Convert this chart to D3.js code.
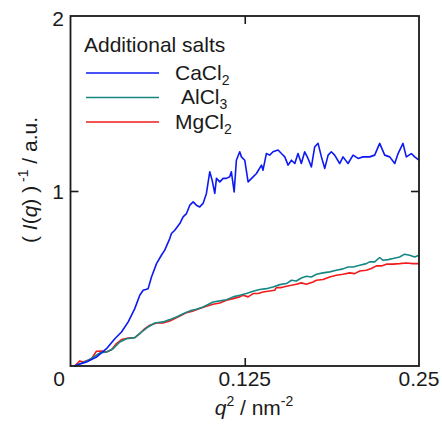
<!DOCTYPE html>
<html>
<head>
<meta charset="utf-8">
<script src="https://cdn.jsdelivr.net/npm/d3@7/dist/d3.min.js"></script>
<style>
  body { margin: 0; background: #fff; }
  svg text { font-family: "Liberation Sans", Arial, sans-serif; fill: #1a1a1a; }
</style>
</head>
<body>
<svg id="chart" width="442" height="425"></svg>
<script>
// q^2 (nm^-2) and (I(q))^-1
const caQ = [0.0024,0.0115,0.0186,0.0258,0.0318,0.0366,0.0414,0.0461,0.0497,0.0521,0.0557,0.0581,0.0617,0.0652,0.0676,0.0712,0.0724,0.0748,0.0784,0.0808,0.0832,0.0856,0.0880,0.0903,0.0927,0.0951,0.0975,0.0999,0.1016,0.1035,0.1047,0.1071,0.1095,0.1119,0.1142,0.1154,0.1174,0.1190,0.1214,0.1226,0.1250,0.1274,0.1310,0.1334,0.1370,0.1381,0.1405,0.1429,0.1453,0.1489,0.1513,0.1537,0.1561,0.1585,0.1609,0.1632,0.1656,0.1680,0.1704,0.1728,0.1752,0.1776,0.1800,0.1824,0.1848,0.1871,0.1895,0.1931,0.1955,0.1991,0.2027,0.2063,0.2098,0.2146,0.2182,0.2218,0.2254,0.2290,0.2326,0.2350,0.2385,0.2409,0.2445,0.2469,0.2500];
const caV = [0,0.023,0.051,0.099,0.156,0.194,0.252,0.328,0.404,0.433,0.442,0.509,0.585,0.633,0.662,0.728,0.757,0.776,0.814,0.852,0.871,0.919,0.938,0.919,0.909,0.929,0.986,1.110,1.062,0.986,1.072,1.052,1.072,1.072,1.081,1.110,0.995,1.176,1.224,1.195,1.176,1.052,1.081,1.100,1.148,1.119,1.214,1.205,1.224,1.234,1.214,1.195,1.148,1.176,1.157,1.214,1.157,1.224,1.186,1.138,1.253,1.272,1.195,1.129,1.205,1.224,1.205,1.157,1.195,1.157,1.205,1.186,1.195,1.195,1.205,1.272,1.205,1.195,1.157,1.214,1.272,1.195,1.214,1.195,1.176];

const alQ = [0.0031,0.0079,0.0120,0.0163,0.0210,0.0258,0.0306,0.0354,0.0402,0.0461,0.0509,0.0557,0.0605,0.0664,0.0712,0.0760,0.0808,0.0856,0.0903,0.0951,0.0987,0.1023,0.1071,0.1119,0.1166,0.1214,0.1262,0.1310,0.1358,0.1405,0.1453,0.1501,0.1549,0.1585,0.1620,0.1656,0.1692,0.1728,0.1764,0.1812,0.1859,0.1907,0.1955,0.1991,0.2027,0.2075,0.2122,0.2146,0.2182,0.2218,0.2242,0.2278,0.2314,0.2361,0.2397,0.2433,0.2469,0.2500];
const alV = [0,0.017,0.029,0.051,0.074,0.080,0.099,0.137,0.156,0.162,0.194,0.223,0.246,0.252,0.265,0.280,0.299,0.315,0.324,0.337,0.351,0.366,0.372,0.379,0.395,0.404,0.414,0.427,0.437,0.442,0.452,0.465,0.471,0.490,0.486,0.503,0.513,0.509,0.524,0.532,0.538,0.547,0.555,0.566,0.566,0.576,0.585,0.595,0.595,0.620,0.604,0.608,0.614,0.623,0.639,0.633,0.623,0.633];

const mgQ = [0.0031,0.0067,0.0091,0.0120,0.0151,0.0186,0.0222,0.0258,0.0294,0.0330,0.0366,0.0414,0.0461,0.0497,0.0533,0.0569,0.0617,0.0664,0.0712,0.0748,0.0796,0.0832,0.0880,0.0927,0.0975,0.1023,0.1071,0.1119,0.1166,0.1214,0.1238,0.1274,0.1310,0.1346,0.1381,0.1429,0.1465,0.1477,0.1513,0.1549,0.1585,0.1620,0.1656,0.1692,0.1740,0.1764,0.1812,0.1859,0.1907,0.1955,0.2003,0.2039,0.2075,0.2122,0.2158,0.2194,0.2230,0.2266,0.2314,0.2361,0.2409,0.2457,0.2500];
const mgV = [0,0.029,0.023,0.032,0.042,0.084,0.086,0.080,0.093,0.128,0.151,0.160,0.162,0.185,0.214,0.233,0.246,0.246,0.257,0.271,0.290,0.305,0.315,0.328,0.341,0.353,0.360,0.376,0.385,0.395,0.404,0.395,0.414,0.414,0.423,0.429,0.433,0.448,0.448,0.456,0.461,0.467,0.475,0.467,0.480,0.490,0.494,0.509,0.519,0.524,0.532,0.528,0.543,0.547,0.557,0.572,0.572,0.582,0.582,0.585,0.589,0.585,0.585];

const xTicks = [0, 0.125, 0.25];
const xTickLabels = ['0', '0.125', '0.25'];
const yTicks = [1, 2];

const series = [
    { name: 'CaCl', sub: '2', q: caQ, v: caV, color: '#0c19f2', dx: 0 },
    { name: 'AlCl', sub: '3', q: alQ, v: alV, color: '#178784', dx: 6 },
    { name: 'MgCl', sub: '2', q: mgQ, v: mgV, color: '#f21b1b', dx: 0 }
];

const svg = d3.select('#chart');
const plot = { left: 70.5, right: 419, top: 16, bottom: 366 };
const fs = 21, fsSmall = 14;

const x = d3.scaleLinear().domain([0, 0.25]).range([plot.left, plot.right]);
const y = d3.scaleLinear().domain([0, 2]).range([plot.bottom, plot.top]);

// curves
const line = d3.line().x(d => x(d[0])).y(d => y(d[1]));
series.slice().reverse().forEach(s => {
    svg.append('path')
        .datum(s.q.map((q, i) => [q, s.v[i]]))
        .attr('d', line)
        .attr('fill', 'none')
        .attr('stroke', s.color)
        .attr('stroke-width', 1.6)
        .attr('stroke-linejoin', 'round');
});

// axes with inward ticks on all four sides
const tickLen = 8;
const axes = [
    { ax: d3.axisBottom(x).tickValues([0.125]), t: `translate(0,${plot.bottom})` },
    { ax: d3.axisTop(x).tickValues([0.125]), t: `translate(0,${plot.top})` },
    { ax: d3.axisLeft(y).tickValues([1]), t: `translate(${plot.left},0)` },
    { ax: d3.axisRight(y).tickValues([1]), t: `translate(${plot.right},0)` }
];
axes.forEach(a => {
    const g = svg.append('g').attr('transform', a.t)
        .call(a.ax.tickSize(-tickLen).tickFormat('').tickSizeOuter(0));
    g.select('.domain').remove();
    g.selectAll('line').attr('stroke', '#1a1a1a').attr('stroke-width', 1.6);
});

svg.append('rect')
    .attr('x', plot.left).attr('y', plot.top)
    .attr('width', plot.right - plot.left).attr('height', plot.bottom - plot.top)
    .attr('fill', 'none').attr('stroke', '#1a1a1a').attr('stroke-width', 1.8);

// tick labels
svg.selectAll('.xlab').data(xTicks).enter().append('text')
    .attr('x', (d, i) => i === 0 ? 59 : x(d))
    .attr('y', 386)
    .attr('text-anchor', 'middle')
    .attr('font-size', fs)
    .text((d, i) => xTickLabels[i]);

svg.selectAll('.ylab').data(yTicks).enter().append('text')
    .attr('x', 64)
    .attr('y', d => y(d) + (d === 2 ? 9.5 : 7.5))
    .attr('text-anchor', 'end')
    .attr('font-size', fs)
    .text(d => d);

// axis titles
const xt = svg.append('text')
    .attr('x', 254).attr('y', 415)
    .attr('text-anchor', 'middle')
    .attr('font-size', fs);
xt.append('tspan').attr('font-style', 'italic').text('q');
xt.append('tspan').attr('font-size', fsSmall).attr('dy', -9).text('2');
xt.append('tspan').attr('dy', 9).text(' / nm');
xt.append('tspan').attr('font-size', fsSmall).attr('dy', -9).text('-2');

const yt = svg.append('text')
    .attr('transform', 'translate(37,180) rotate(-90)')
    .attr('text-anchor', 'middle')
    .attr('font-size', fs);
yt.append('tspan').text('( ');
yt.append('tspan').attr('font-style', 'italic').text('I');
yt.append('tspan').text('(');
yt.append('tspan').attr('font-style', 'italic').text('q');
yt.append('tspan').text(') )');
yt.append('tspan').attr('font-size', fsSmall).attr('dy', -9).text(' -1');
yt.append('tspan').attr('dy', 9).text(' / a.u.');

// legend
svg.append('text')
    .attr('x', 84).attr('y', 52)
    .attr('font-size', fs)
    .text('Additional salts');

series.forEach((s, i) => {
    const ly = 73 + i * 24.5;
    svg.append('line')
        .attr('x1', 86).attr('x2', 159)
        .attr('y1', ly).attr('y2', ly)
        .attr('stroke', s.color).attr('stroke-width', 1.6);
    const t = svg.append('text')
        .attr('x', 175 + s.dx).attr('y', ly + 6.5)
        .attr('font-size', fs);
    t.append('tspan').text(s.name);
    t.append('tspan').attr('font-size', fsSmall).attr('dy', 5).text(s.sub);
});
</script>
</body>
</html>
